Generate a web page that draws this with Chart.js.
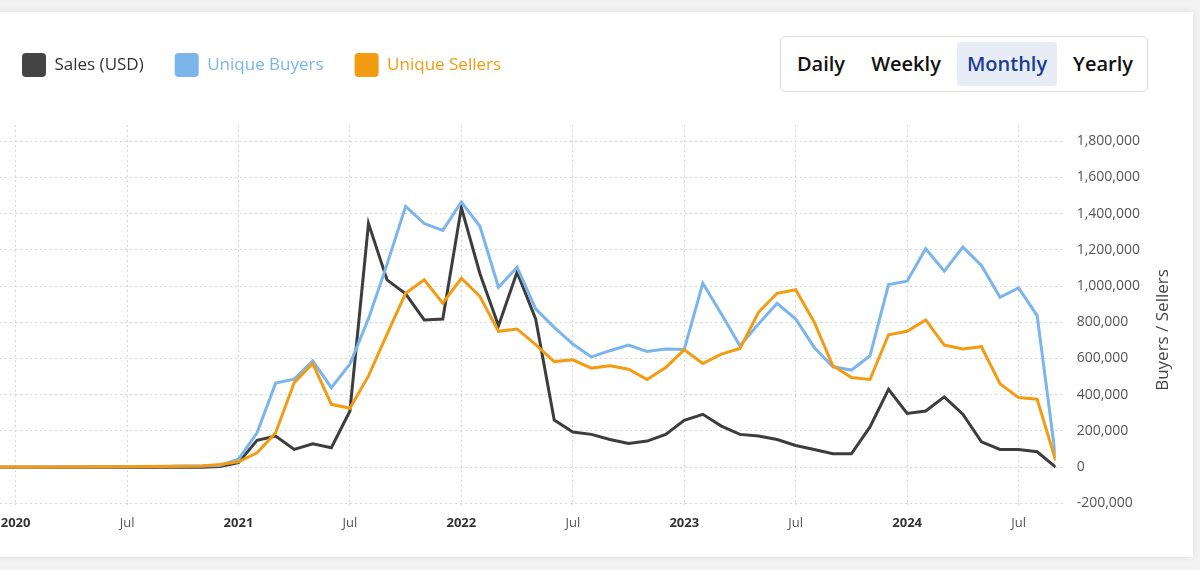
<!DOCTYPE html>
<html>
<head>
<meta charset="utf-8">
<script src="https://cdn.jsdelivr.net/npm/chart.js@4.4.1/dist/chart.umd.min.js"></script>
<style>
body{margin:0;width:1200px;height:570px;background:#f3f3f3;overflow:hidden;font-family:'Open Sans',sans-serif}
.card{position:absolute;left:-20px;top:12px;width:1213px;height:545px;background:#fff;box-shadow:0 0 8px rgba(0,0,0,.08)}
.wrap{position:absolute;left:0;top:22px;width:1190px;height:517px}
.periods{position:absolute;left:780px;top:36px;width:366px;height:54px;border:1px solid #dedede;border-radius:5px;background:#fff}
.periods span{position:absolute;top:5px;height:44px;line-height:44px;text-align:center;font-size:20px;font-weight:600;color:#111;border-radius:4px}
.periods .on{background:#e8ecf6;color:#1b3d94}
</style>
</head>
<body>
<div class="card"></div>
<div class="wrap"><canvas id="grafico"></canvas></div>
<div class="periods">
  <span style="left:5px;width:70px">Daily</span>
  <span style="left:81px;width:88px">Weekly</span>
  <span class="on" style="left:176px;width:100px">Monthly</span>
  <span style="left:282px;width:80px">Yearly</span>
</div>
<script>
// meses: Dez/2019 ate Set/2024
const meses = ['2019-12',
  '2020-01','2020-02','2020-03','2020-04','2020-05','2020-06','2020-07','2020-08','2020-09','2020-10','2020-11','2020-12',
  '2021-01','2021-02','2021-03','2021-04','2021-05','2021-06','2021-07','2021-08','2021-09','2021-10','2021-11','2021-12',
  '2022-01','2022-02','2022-03','2022-04','2022-05','2022-06','2022-07','2022-08','2022-09','2022-10','2022-11','2022-12',
  '2023-01','2023-02','2023-03','2023-04','2023-05','2023-06','2023-07','2023-08','2023-09','2023-10','2023-11','2023-12',
  '2024-01','2024-02','2024-03','2024-04','2024-05','2024-06','2024-07','2024-08','2024-09'];

const vendas = [0,
  0,0,0,0,0,0,0,0,0,0,0,3000,
  25000,148000,172000,98000,129000,107000,310000,1345000,1034000,957000,813000,818000,
  1433000,1068000,781000,1077000,818000,260000,194000,181000,153000,131000,144000,181000,
  259000,292000,227000,181000,172000,153000,120000,98000,74000,74000,222000,430000,
  297000,310000,388000,292000,140000,98000,98000,85000,0];

const compradores = [1000,
  1000,1000,2000,2000,3000,3000,4000,4000,5000,6000,7000,9000,
  44000,190000,464000,486000,587000,439000,569000,820000,1120000,1440000,1345000,1307000,
  1464000,1330000,993000,1104000,874000,772000,680000,609000,643000,674000,639000,652000,
  650000,1015000,846000,670000,791000,905000,818000,661000,554000,536000,615000,1008000,
  1027000,1206000,1082000,1215000,1114000,938000,990000,837000,52000];

const vendedores = [500,
  500,1000,1000,1500,2000,2000,3000,3500,4000,5000,6000,15000,
  30000,79000,190000,467000,572000,347000,325000,504000,735000,960000,1034000,905000,
  1043000,942000,750000,763000,676000,583000,593000,547000,560000,541000,484000,550000,
  648000,572000,624000,655000,855000,960000,980000,800000,560000,495000,484000,731000,
  750000,813000,674000,652000,665000,461000,384000,375000,37000];

// ticks (meses contados a partir de Jan/2020)
const xTicks = [0, 6, 12, 18, 24, 30, 36, 42, 48, 54];
const xTickLabels = ['2020','Jul','2021','Jul','2022','Jul','2023','Jul','2024','Jul'];
const yTicks = [-200000, 0, 200000, 400000, 600000, 800000, 1000000, 1200000, 1400000, 1600000, 1800000];
const tituloY = 'Buyers / Sellers';

const primeiroMes = -1; // indice de Dez/2019
function pontos(valores){
  return valores.map((v, i) => ({x: primeiroMes + i, y: v}));
}

const corTexto = ['#333', '#7cb5ec', '#f39c12'];

// espaco abaixo da legenda + deslocamento pra esquerda
const ajusteLegenda = {
  id: 'ajusteLegenda',
  beforeInit(chart){
    const fit = chart.legend.fit;
    chart.legend.fit = function(){ fit.bind(chart.legend)(); this.height += 38; };
  },
  afterLayout(chart){ chart.legend.left -= 9; }
};

// titulo do eixo direito, lido de baixo pra cima
const tituloEixo = {
  id: 'tituloEixo',
  afterDraw(chart){
    const c = chart.ctx;
    c.save();
    c.translate(1163, 308);
    c.rotate(-Math.PI / 2);
    c.font = "17px 'Open Sans', sans-serif";
    c.fillStyle = '#444';
    c.textAlign = 'center';
    c.textBaseline = 'middle';
    c.fillText(tituloY, 0, 0);
    c.restore();
  }
};

Chart.defaults.font.family = "'Open Sans', sans-serif";

const ctx = document.getElementById('grafico').getContext('2d');
const grafico = new Chart(ctx, {
  type: 'line',
  data: {
    datasets: [
      {label: 'Sales (USD)', data: pontos(vendas), yAxisID: 'ySales',
       borderColor: '#3d3d3d', backgroundColor: '#444', order: 2},
      {label: 'Unique Buyers', data: pontos(compradores), yAxisID: 'y',
       borderColor: '#7cb5ec', backgroundColor: '#7cb5ec', order: 1},
      {label: 'Unique Sellers', data: pontos(vendedores), yAxisID: 'y',
       borderColor: '#f39c12', backgroundColor: '#f39c12', order: 0}
    ]
  },
  options: {
    responsive: true,
    maintainAspectRatio: false,
    animation: false,
    layout: {padding: {left: 0, right: 38, top: 0, bottom: 0}},
    elements: {
      line: {borderWidth: 3, tension: 0},
      point: {radius: 0}
    },
    scales: {
      x: {
        type: 'linear', min: -0.84, max: 56,
        afterBuildTicks: s => { s.ticks = xTicks.map(v => ({value: v})); },
        afterFit: s => { s.paddingLeft = 0; },
        ticks: {
          autoSkip: false, maxRotation: 0, padding: 8,
          color: c => (c.index % 2 === 0) ? '#333' : '#555',
          font: c => ({size: 13, weight: (c.index % 2 === 0) ? 'bold' : 'normal'}),
          callback: (v, i) => xTickLabels[i]
        },
        grid: {color: '#d3d8da', tickLength: 4, tickBorderDash: [2, 3]},
        border: {display: false, dash: [2, 3]}
      },
      y: {
        position: 'right', min: -200000, max: 1889000,
        afterBuildTicks: s => { s.ticks = yTicks.map(v => ({value: v})); },
        ticks: {autoSkip: false, color: '#555', font: {size: 14}, padding: 12,
          callback: v => v.toLocaleString('en-US')},
        grid: {color: '#d3d8da', tickLength: 9, tickBorderDash: [2, 3]},
        border: {display: false, dash: [2, 3]}
      },
      ySales: {display: false, position: 'left', min: -200000, max: 1889000}
    },
    plugins: {
      tooltip: {enabled: false},
      legend: {
        position: 'top', align: 'start',
        labels: {
          boxWidth: 24, boxHeight: 24, padding: 31, font: {size: 17},
          useBorderRadius: true, borderRadius: 4,
          sort: (a, b) => a.datasetIndex - b.datasetIndex,
          generateLabels: ch => Chart.defaults.plugins.legend.labels.generateLabels(ch)
            .map(it => Object.assign(it, {lineWidth: 0, fontColor: corTexto[it.datasetIndex]}))
        }
      }
    }
  },
  plugins: [ajusteLegenda, tituloEixo]
});
</script>
</body>
</html>
